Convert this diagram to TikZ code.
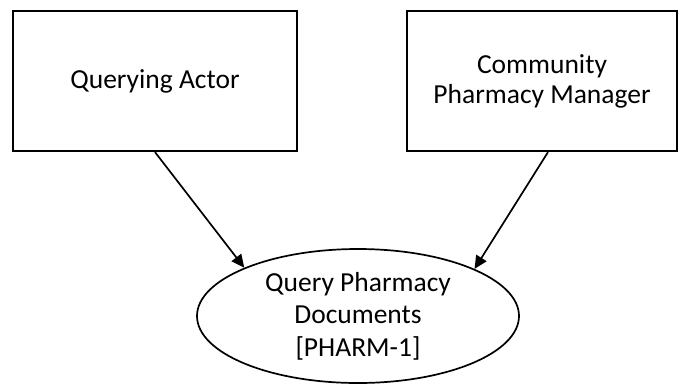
\documentclass[tikz,border=0pt]{standalone}
\usepackage{fontspec}
\setmainfont{Carlito}
\usetikzlibrary{arrows.meta,shapes.geometric}
\tikzset{
  actor/.style={draw, line width=2.2pt, rectangle, align=center, inner sep=0pt,
    font=\fontsize{27.5}{30}\selectfont},
  usecase/.style={draw, line width=1.7pt, ellipse, align=center, inner sep=0pt,
    font=\fontsize{27.5}{32.5}\selectfont},
  assoc/.style={line width=1.7pt, -{Triangle[length=13pt,width=12pt]}}
}
\begin{document}
\begin{tikzpicture}[x=1pt,y=-1pt]
\useasboundingbox (0,0) rectangle (680,384);
\node[actor, minimum width=284pt, minimum height=140pt] (qa) at (155,81) {Querying Actor};
\node[actor, minimum width=270pt, minimum height=140pt] (cpm) at (542,81) {Community\\Pharmacy Manager};
\node[usecase, minimum width=322pt, minimum height=134pt] (qpd) at (358,316) {Query Pharmacy\\Documents\\{[PHARM-1]}};
\draw[assoc] (qa.south) -- (qpd.157);
\draw[assoc] ([xshift=6pt]cpm.south) -- (qpd.22);
\end{tikzpicture}
\end{document}
